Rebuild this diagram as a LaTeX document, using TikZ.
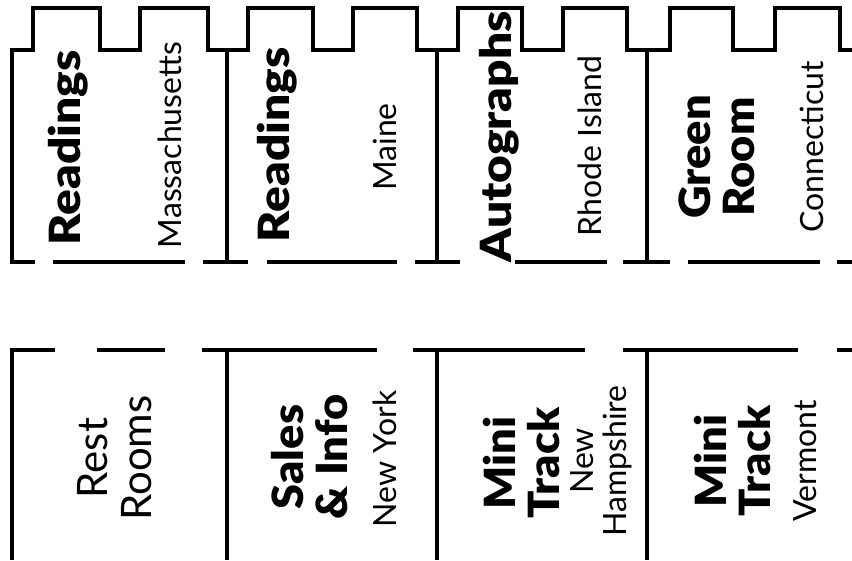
\documentclass[tikz,border=0pt]{standalone}
\usepackage{fontspec}
\setmainfont{Lato}
\newfontfamily\heavyfont{Lato Black}
\tikzset{
  wall/.style={line width=3.5pt, line cap=butt, line join=miter},
  head/.style={rotate=90, xscale=1.05, inner sep=0pt, align=center, font=\heavyfont\fontsize{43}{44}\selectfont},
  widehead/.style={head, xscale=1.06},
  state/.style={rotate=90, inner sep=0pt, align=center, font=\fontsize{32}{33}\selectfont},
  big/.style={rotate=90, inner sep=0pt, align=center, font=\fontsize{42}{44}\selectfont}
}
\begin{document}
\begin{tikzpicture}[x=1pt,y=-1pt]
\useasboundingbox[fill=white] (0,0) rectangle (852,560);
% battlement top
\draw[wall] (12,262) -- (12,50) -- (33,50) -- (33,8) -- (100,8) -- (100,50) -- (140,50) -- (140,8) -- (208,8) -- (208,50)
  -- (248,50) -- (248,8) -- (313,8) -- (313,50) -- (353,50) -- (353,8) -- (417,8) -- (417,50)
  -- (458,50) -- (458,8) -- (522,8) -- (522,50) -- (563,50) -- (563,8) -- (627,8) -- (627,50)
  -- (670,50) -- (670,8) -- (733,8) -- (733,50) -- (775,50) -- (775,8) -- (840,8) -- (840,50) -- (852,50);
% top row dividers
\foreach \x in {227,437,647} \draw[wall] (\x,50) -- (\x,262);
% top row front wall with doors
\draw[wall] (10.25,262) -- (35,262);
\foreach \a/\b in {53/185,203/248,267/397,415/460,515/607,623/670,688/820,837/852}
  \draw[wall] (\a,262) -- (\b,262);
% bottom row
\draw[wall] (12,560) -- (12,350) -- (55,350);
\foreach \a/\b in {97/165,202/377,413/585,623/798,837/852}
  \draw[wall] (\a,350) -- (\b,350);
\foreach \x in {227,437,647} \draw[wall] (\x,350) -- (\x,560);
% labels top row
\node[widehead] (r1)  at (68,148)  {Readings};
\node[state]    (ma)  at (170,145) {Massachusetts};
\node[widehead] (r2)  at (277,145) {Readings};
\node[state]    (me)  at (385,147) {Maine};
\node[widehead] (au)  at (499,137) {Autographs};
\node[state]    (ri)  at (590,146) {Rhode Island};
\node[head]     (gr)  at (717,157) {Green\\Room};
\node[state]    (ct)  at (812,147) {Connecticut};
% labels bottom row
\node[big]      (rr)  at (115,458) {Rest\\Rooms};
\node[head]     (si)  at (310,457) {Sales\\\& Info};
\node[state]    (ny)  at (385,459) {New York};
\node[head]     (mt1) at (522,463) {Mini\\Track};
\node[state]    (nh)  at (601,461) {New\\Hampshire};
\node[head]     (mt2) at (733,461) {Mini\\Track};
\node[state]    (vt)  at (805,461) {Vermont};
\end{tikzpicture}
\end{document}
